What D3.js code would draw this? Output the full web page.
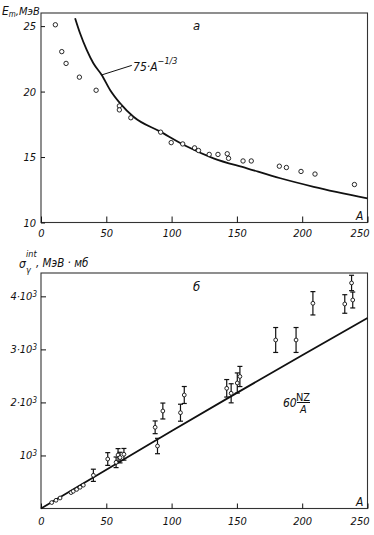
<!DOCTYPE html>
<html>
<head>
<meta charset="utf-8">
<script src="https://d3js.org/d3.v7.min.js"></script>
<style>
  body { margin: 0; background: #fff; }
  svg text { font-family: 'Liberation Sans Narrow', 'DejaVu Sans Condensed', 'Liberation Sans', sans-serif; font-style: italic; fill: #111; }
</style>
</head>
<body>
<svg id="chart"></svg>
<script>
// panel a: E_m vs A
const emA = [11, 15.9, 19.2, 29.4, 42.2, 60, 60, 68.8, 91.6, 99.7, 108.5, 117.6, 120.6, 128.8, 135.5, 142.6, 143.6, 154.7, 161, 182.5, 187.9, 199.1, 209.8, 240];
const emE = [25.1, 23.05, 22.15, 21.1, 20.1, 18.9, 18.6, 18.0, 16.9, 16.1, 16.0, 15.7, 15.5, 15.2, 15.2, 15.25, 14.9, 14.7, 14.7, 14.3, 14.2, 13.9, 13.7, 12.9];
// 75 A^-1/3 curve
const curveA = [26.1, 29.9, 35.0, 40.1, 46.5, 52.9, 60.6, 70.8, 91.3, 111.8, 132.1, 157.7, 183.3, 208.8, 250];
const curveE = [25.6, 24.45, 23.18, 22.16, 21.27, 20.12, 19.1, 18.08, 16.94, 15.8, 14.9, 14.14, 13.38, 12.73, 11.85];
const emTicks = [10, 15, 20, 25];

// panel b: integrated cross section vs A
const sigA = [8.2, 11.5, 14.6, 23, 24.7, 27.3, 29.9, 32.4, 40.1, 51.1, 57.5, 59, 60.5, 63.5, 87.4, 89.2, 93.3, 106.8, 109.7, 142.2, 145.6, 150.3, 152.3, 179.7, 195.3, 208.2, 232.6, 238.7, 237.8];
const sigVal = [112, 155, 198, 300, 325, 360, 400, 440, 626, 933, 871, 1009, 960, 1022, 1531, 1178, 1838, 1806, 2140, 2266, 2172, 2366, 2489, 3177, 3177, 3869, 3856, 3931, 4252];
const sigErr = [0, 0, 0, 0, 0, 0, 0, 0, 115, 120, 100, 120, 100, 110, 120, 145, 150, 160, 160, 165, 180, 190, 190, 235, 235, 220, 175, 150, 145];
// 60 NZ/A line
const lineA = [0, 50, 100, 150, 200, 250];
const lineVal = [0, 730, 1460, 2180, 2890, 3590];
const sigTicks = [1000, 2000, 3000, 4000];
const aTicks = [0, 50, 100, 150, 200, 250];

const width = 374, height = 535;
const svg = d3.select("#chart").attr("width", width).attr("height", height);
const ink = "#111";

const x = d3.scaleLinear().domain([0, 250]).range([41, 367.5]);
const yTop = d3.scaleLinear().domain([10, 26]).range([222.5, 13]);
const yBot = d3.scaleLinear().domain([0, 4440]).range([508.5, 273]);

function frame(y) {
    svg.append("rect")
        .attr("x", x.range()[0]).attr("y", y.range()[1])
        .attr("width", x.range()[1] - x.range()[0])
        .attr("height", y.range()[0] - y.range()[1])
        .attr("fill", "none").attr("stroke", "#333").attr("stroke-width", 1.1);
}

function styleAxis(g) {
    g.select(".domain").remove();
    g.selectAll("line").attr("stroke", ink).attr("stroke-width", 1);
    g.selectAll("text").attr("font-size", 11).attr("fill", ink);
}

// last x label sits left of its tick, as in the print
function shiftLast(g) {
    g.selectAll(".tick text").filter(d => d === 250)
        .attr("text-anchor", "end").attr("x", 1.5);
}

// ---------- panel a ----------
frame(yTop);

svg.append("g")
    .attr("transform", `translate(0,${yTop.range()[0]})`)
    .call(d3.axisBottom(x).tickValues(aTicks).tickSize(-6).tickPadding(7))
    .call(styleAxis)
    .call(shiftLast);

svg.append("g")
    .attr("transform", `translate(${x.range()[0]},0)`)
    .call(d3.axisLeft(yTop).tickValues(emTicks).tickSize(-4).tickPadding(5))
    .call(styleAxis);

svg.append("path")
    .datum(curveA.map((a, i) => [a, curveE[i]]))
    .attr("fill", "none").attr("stroke", ink).attr("stroke-width", 1.8)
    .attr("d", d3.line().x(d => x(d[0])).y(d => yTop(d[1])).curve(d3.curveMonotoneX));

svg.append("g").selectAll("circle")
    .data(emA.map((a, i) => [a, emE[i]]))
    .join("circle")
    .attr("cx", d => x(d[0])).attr("cy", d => yTop(d[1]))
    .attr("r", 2.2).attr("fill", "#fff").attr("stroke", ink).attr("stroke-width", 0.9);

// leader + label
svg.append("line")
    .attr("x1", x(46.5)).attr("y1", yTop(21.27))
    .attr("x2", x(69.5)).attr("y2", yTop(22.0))
    .attr("stroke", ink).attr("stroke-width", 1);
const lblA = svg.append("text").attr("x", x(70.5)).attr("y", yTop(21.6)).attr("font-size", 12);
lblA.append("tspan").text("75·A");
lblA.append("tspan").attr("dy", -7).attr("font-size", 9).text("−1/3");

svg.append("text").attr("x", 193).attr("y", 30).attr("font-size", 13).text("а");
svg.append("text").attr("x", 356).attr("y", 220).attr("font-size", 12).text("A");

const yl = svg.append("text").attr("x", 2).attr("y", 15).attr("font-size", 12);
yl.append("tspan").text("E");
yl.append("tspan").attr("dy", 2).attr("font-size", 8).text("m");
yl.append("tspan").attr("dy", -2).attr("font-size", 11).text(",МэВ");

// ---------- panel b ----------
frame(yBot);

svg.append("g")
    .attr("transform", `translate(0,${yBot.range()[0]})`)
    .call(d3.axisBottom(x).tickValues(aTicks).tickSize(-5).tickPadding(9))
    .call(styleAxis)
    .call(shiftLast);

const yAxB = svg.append("g")
    .attr("transform", `translate(${x.range()[0]},0)`)
    .call(d3.axisLeft(yBot).tickValues(sigTicks).tickSize(-5).tickPadding(4))
    .call(styleAxis);
yAxB.selectAll(".tick text").each(function(d) {
    const t = d3.select(this).text(null);
    const k = d / 1000;
    t.append("tspan").text((k > 1 ? k + "·" : "") + "10");
    t.append("tspan").attr("dy", "-0.45em").attr("font-size", 8).text("3");
});

svg.append("path")
    .datum(lineA.map((a, i) => [a, lineVal[i]]))
    .attr("fill", "none").attr("stroke", ink).attr("stroke-width", 1.8)
    .attr("d", d3.line().x(d => x(d[0])).y(d => yBot(d[1])));

const pts = sigA.map((a, i) => ({ a, v: sigVal[i], e: sigErr[i] }));
const eb = svg.append("g").attr("stroke", ink).attr("stroke-width", 1.2);
pts.filter(d => d.e > 0).forEach(d => {
    const cx = x(d.a);
    eb.append("line").attr("x1", cx).attr("x2", cx).attr("y1", yBot(d.v - d.e)).attr("y2", yBot(d.v + d.e));
    eb.append("line").attr("x1", cx - 2.5).attr("x2", cx + 2.5).attr("y1", yBot(d.v + d.e)).attr("y2", yBot(d.v + d.e));
    eb.append("line").attr("x1", cx - 2.5).attr("x2", cx + 2.5).attr("y1", yBot(d.v - d.e)).attr("y2", yBot(d.v - d.e));
});
svg.append("g").selectAll("circle")
    .data(pts)
    .join("circle")
    .attr("cx", d => x(d.a)).attr("cy", d => yBot(d.v))
    .attr("r", 1.9).attr("fill", "#fff").attr("stroke", ink).attr("stroke-width", 0.9);

svg.append("text").attr("x", 193).attr("y", 291).attr("font-size", 13).text("б");
svg.append("text").attr("x", 356).attr("y", 506).attr("font-size", 12).text("A");

// 60 NZ/A label
svg.append("text").attr("x", 283).attr("y", 406.5).attr("font-size", 12).text("60");
svg.append("text").attr("x", 303).attr("y", 400.5).attr("font-size", 11)
    .attr("text-anchor", "middle").style("font-style", "normal").text("NZ");
svg.append("line").attr("x1", 297).attr("x2", 310).attr("y1", 402.5).attr("y2", 402.5)
    .attr("stroke", ink).attr("stroke-width", 1);
svg.append("text").attr("x", 303.5).attr("y", 413).attr("font-size", 11)
    .attr("text-anchor", "middle").text("A");

// y label of panel b
svg.append("text").attr("x", 19).attr("y", 268).attr("font-size", 12).text("σ");
svg.append("text").attr("x", 26).attr("y", 257).attr("font-size", 9).text("int");
svg.append("text").attr("x", 26).attr("y", 273).attr("font-size", 9).text("γ");
svg.append("text").attr("x", 36).attr("y", 267).attr("font-size", 11.5).text(", МэВ · мб");
</script>
</body>
</html>
